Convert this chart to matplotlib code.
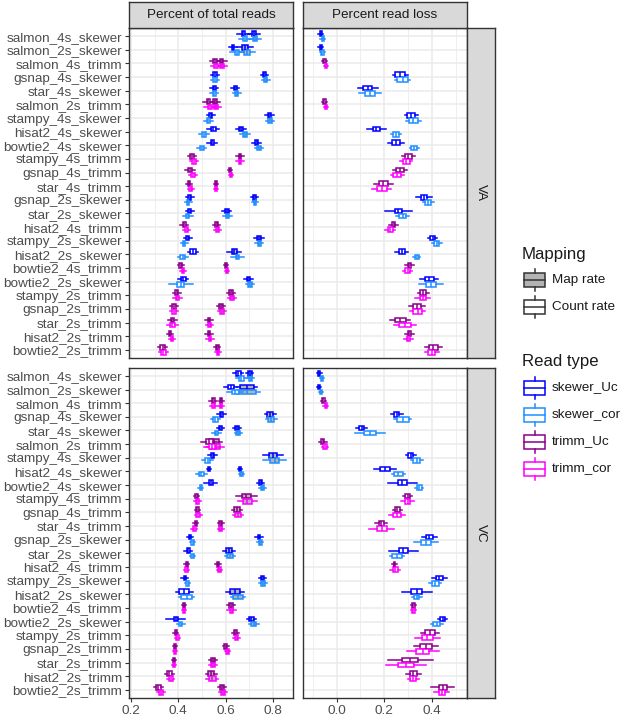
import numpy as np
import matplotlib.pyplot as plt

plt.rcParams['font.family'] = ['Liberation Sans', 'DejaVu Sans']

# pipelines, top to bottom
categories = ['salmon_4s_skewer', 'salmon_2s_skewer', 'salmon_4s_trimm', 'gsnap_4s_skewer',
              'star_4s_skewer', 'salmon_2s_trimm', 'stampy_4s_skewer', 'hisat2_4s_skewer',
              'bowtie2_4s_skewer', 'stampy_4s_trimm', 'gsnap_4s_trimm', 'star_4s_trimm',
              'gsnap_2s_skewer', 'star_2s_skewer', 'hisat2_4s_trimm', 'stampy_2s_skewer',
              'hisat2_2s_skewer', 'bowtie2_4s_trimm', 'bowtie2_2s_skewer', 'stampy_2s_trimm',
              'gsnap_2s_trimm', 'star_2s_trimm', 'hisat2_2s_trimm', 'bowtie2_2s_trimm']
trimmer = ['skewer' if c.endswith('skewer') else 'trimm' for c in categories]

colors = {'skewer_Uc': '#0000FF', 'skewer_cor': '#1E90FF',
          'trimm_Uc': '#8B008B', 'trimm_cor': '#FF00FF'}
read_types = ['skewer_Uc', 'skewer_cor', 'trimm_Uc', 'trimm_cor']

# ---- VA, percent of total reads ----
va_count_uc_med = [0.675, 0.631, 0.555, 0.555, 0.552, 0.527, 0.537, 0.548, 0.544, 0.459, 0.449, 0.445,
                   0.449, 0.449, 0.425, 0.440, 0.461, 0.410, 0.421, 0.393, 0.382, 0.375, 0.365, 0.334]
va_count_cor_med = [0.682, 0.648, 0.560, 0.555, 0.552, 0.534, 0.527, 0.509, 0.499, 0.466, 0.461, 0.452,
                    0.442, 0.440, 0.435, 0.425, 0.419, 0.419, 0.411, 0.396, 0.382, 0.375, 0.372, 0.337]
va_map_uc_med = [0.720, 0.682, 0.583, 0.764, 0.640, 0.555, 0.785, 0.665, 0.731, 0.661, 0.619, 0.558,
                 0.722, 0.605, 0.562, 0.741, 0.637, 0.600, 0.696, 0.623, 0.581, 0.530, 0.530, 0.565]
va_map_cor_med = [0.724, 0.690, 0.585, 0.770, 0.647, 0.560, 0.788, 0.682, 0.742, 0.661, 0.622, 0.560,
                  0.724, 0.608, 0.566, 0.742, 0.650, 0.605, 0.703, 0.626, 0.584, 0.532, 0.534, 0.569]
va_count_uc_iqr = [0.015, 0.010, 0.015, 0.015, 0.012, 0.015, 0.012, 0.020, 0.012, 0.015, 0.015, 0.010,
                   0.012, 0.012, 0.012, 0.012, 0.025, 0.010, 0.020, 0.015, 0.015, 0.015, 0.010, 0.020]
va_count_cor_iqr = [0.020, 0.020, 0.015, 0.015, 0.012, 0.020, 0.015, 0.020, 0.015, 0.015, 0.015, 0.010,
                    0.010, 0.012, 0.012, 0.010, 0.020, 0.010, 0.030, 0.015, 0.015, 0.020, 0.010, 0.020]
va_map_uc_iqr = [0.020, 0.025, 0.015, 0.012, 0.012, 0.015, 0.015, 0.015, 0.015, 0.012, 0.008, 0.008,
                 0.010, 0.015, 0.012, 0.015, 0.020, 0.008, 0.015, 0.015, 0.015, 0.012, 0.012, 0.010]
va_map_cor_iqr = [0.020, 0.025, 0.015, 0.012, 0.012, 0.015, 0.015, 0.015, 0.015, 0.012, 0.008, 0.008,
                  0.010, 0.015, 0.012, 0.012, 0.015, 0.008, 0.015, 0.015, 0.015, 0.012, 0.012, 0.010]
va_count_uc_wsk = [0.020, 0.010, 0.015, 0.010, 0.010, 0.015, 0.010, 0.015, 0.015, 0.010, 0.012, 0.008,
                   0.010, 0.012, 0.010, 0.010, 0.008, 0.008, 0.012, 0.010, 0.010, 0.010, 0.008, 0.008]
va_count_cor_wsk = [0.015, 0.020, 0.015, 0.010, 0.010, 0.015, 0.012, 0.012, 0.012, 0.010, 0.010, 0.008,
                    0.010, 0.015, 0.010, 0.010, 0.012, 0.008, 0.035, 0.012, 0.010, 0.012, 0.008, 0.008]
va_map_uc_wsk = [0.015, 0.020, 0.015, 0.010, 0.010, 0.015, 0.010, 0.012, 0.010, 0.010, 0.005, 0.005,
                 0.008, 0.012, 0.008, 0.012, 0.020, 0.005, 0.012, 0.010, 0.010, 0.010, 0.010, 0.008]
va_map_cor_wsk = [0.015, 0.020, 0.015, 0.010, 0.010, 0.015, 0.010, 0.012, 0.010, 0.010, 0.005, 0.005,
                  0.008, 0.010, 0.008, 0.010, 0.020, 0.005, 0.010, 0.010, 0.010, 0.010, 0.010, 0.008]

# ---- VA, percent read loss ----
va_loss_uc_med = [-0.067, -0.067, -0.052, 0.267, 0.130, -0.052, 0.313, 0.166, 0.250, 0.302, 0.267, 0.196,
                  0.368, 0.260, 0.239, 0.404, 0.274, 0.306, 0.390, 0.365, 0.337, 0.267, 0.306, 0.407]
va_loss_cor_med = [-0.059, -0.060, -0.045, 0.278, 0.140, -0.045, 0.323, 0.248, 0.327, 0.292, 0.255, 0.190,
                   0.386, 0.278, 0.225, 0.421, 0.337, 0.298, 0.397, 0.362, 0.340, 0.288, 0.302, 0.400]
va_loss_uc_iqr = [0.010, 0.010, 0.010, 0.040, 0.035, 0.010, 0.035, 0.030, 0.035, 0.030, 0.035, 0.040,
                  0.025, 0.030, 0.015, 0.020, 0.025, 0.015, 0.035, 0.025, 0.035, 0.045, 0.015, 0.035]
va_loss_cor_iqr = [0.010, 0.010, 0.010, 0.045, 0.040, 0.010, 0.035, 0.025, 0.025, 0.030, 0.035, 0.040,
                   0.025, 0.030, 0.020, 0.020, 0.015, 0.020, 0.040, 0.025, 0.035, 0.050, 0.015, 0.030]
va_loss_uc_wsk = [0.005, 0.005, 0.005, 0.012, 0.025, 0.005, 0.010, 0.025, 0.015, 0.012, 0.012, 0.020,
                  0.020, 0.040, 0.010, 0.010, 0.015, 0.010, 0.020, 0.012, 0.015, 0.020, 0.012, 0.020]
va_loss_cor_wsk = [0.005, 0.005, 0.005, 0.010, 0.025, 0.005, 0.015, 0.008, 0.008, 0.010, 0.010, 0.020,
                   0.010, 0.012, 0.012, 0.010, 0.008, 0.010, 0.030, 0.020, 0.015, 0.020, 0.010, 0.015]

# ---- VC, percent of total reads ----
vc_count_uc_med = [0.653, 0.622, 0.547, 0.582, 0.578, 0.530, 0.545, 0.530, 0.538, 0.477, 0.480, 0.473,
                   0.449, 0.442, 0.435, 0.428, 0.425, 0.424, 0.390, 0.389, 0.386, 0.382, 0.362, 0.316]
vc_count_cor_med = [0.667, 0.640, 0.550, 0.557, 0.561, 0.543, 0.524, 0.498, 0.495, 0.481, 0.484, 0.467,
                    0.460, 0.460, 0.435, 0.439, 0.435, 0.424, 0.411, 0.396, 0.386, 0.382, 0.368, 0.327]
vc_map_uc_med = [0.702, 0.690, 0.582, 0.789, 0.648, 0.550, 0.800, 0.660, 0.748, 0.688, 0.648, 0.580,
                 0.741, 0.615, 0.568, 0.755, 0.640, 0.622, 0.709, 0.641, 0.600, 0.547, 0.540, 0.585]
vc_map_cor_med = [0.706, 0.690, 0.582, 0.793, 0.653, 0.555, 0.807, 0.667, 0.755, 0.692, 0.653, 0.580,
                  0.747, 0.618, 0.573, 0.758, 0.653, 0.625, 0.719, 0.646, 0.608, 0.547, 0.543, 0.590]
vc_count_uc_iqr = [0.020, 0.025, 0.012, 0.015, 0.010, 0.030, 0.015, 0.010, 0.015, 0.010, 0.012, 0.008,
                   0.008, 0.012, 0.008, 0.010, 0.040, 0.006, 0.020, 0.010, 0.006, 0.008, 0.020, 0.020]
vc_count_cor_iqr = [0.020, 0.030, 0.012, 0.020, 0.015, 0.030, 0.020, 0.020, 0.010, 0.015, 0.015, 0.012,
                    0.010, 0.010, 0.010, 0.010, 0.045, 0.008, 0.012, 0.010, 0.006, 0.010, 0.015, 0.015]
vc_map_uc_iqr = [0.015, 0.060, 0.008, 0.025, 0.015, 0.040, 0.035, 0.008, 0.012, 0.035, 0.025, 0.012,
                 0.010, 0.025, 0.012, 0.015, 0.045, 0.015, 0.020, 0.015, 0.015, 0.015, 0.025, 0.015]
vc_map_cor_iqr = [0.015, 0.080, 0.008, 0.025, 0.015, 0.045, 0.040, 0.012, 0.012, 0.040, 0.025, 0.012,
                  0.010, 0.025, 0.012, 0.015, 0.040, 0.015, 0.020, 0.015, 0.015, 0.015, 0.030, 0.015]
vc_count_uc_wsk = [0.010, 0.015, 0.010, 0.010, 0.010, 0.020, 0.012, 0.005, 0.020, 0.005, 0.005, 0.005,
                   0.010, 0.010, 0.005, 0.010, 0.015, 0.005, 0.030, 0.005, 0.005, 0.005, 0.010, 0.008]
vc_count_cor_wsk = [0.012, 0.020, 0.010, 0.010, 0.010, 0.020, 0.012, 0.015, 0.005, 0.008, 0.008, 0.008,
                    0.005, 0.005, 0.005, 0.005, 0.010, 0.005, 0.010, 0.005, 0.005, 0.005, 0.008, 0.008]
vc_map_uc_wsk = [0.008, 0.012, 0.005, 0.010, 0.008, 0.015, 0.025, 0.005, 0.010, 0.025, 0.008, 0.008,
                 0.010, 0.012, 0.005, 0.008, 0.015, 0.010, 0.010, 0.008, 0.005, 0.008, 0.010, 0.010]
vc_map_cor_wsk = [0.008, 0.015, 0.005, 0.010, 0.008, 0.015, 0.030, 0.005, 0.010, 0.020, 0.008, 0.008,
                  0.008, 0.010, 0.005, 0.008, 0.010, 0.010, 0.010, 0.008, 0.005, 0.008, 0.010, 0.010]

# ---- VC, percent read loss ----
vc_loss_uc_med = [-0.073, -0.074, -0.056, 0.253, 0.105, -0.059, 0.312, 0.204, 0.276, 0.298, 0.255, 0.187,
                  0.390, 0.281, 0.243, 0.432, 0.337, 0.323, 0.446, 0.393, 0.376, 0.309, 0.323, 0.446]
vc_loss_cor_med = [-0.063, -0.066, -0.046, 0.278, 0.140, -0.049, 0.337, 0.260, 0.347, 0.298, 0.253, 0.190,
                   0.376, 0.253, 0.246, 0.414, 0.337, 0.323, 0.421, 0.382, 0.362, 0.292, 0.323, 0.442]
vc_loss_uc_iqr = [0.008, 0.008, 0.010, 0.020, 0.020, 0.015, 0.020, 0.040, 0.040, 0.020, 0.020, 0.020,
                  0.030, 0.040, 0.008, 0.030, 0.045, 0.010, 0.020, 0.045, 0.050, 0.070, 0.030, 0.035]
vc_loss_cor_iqr = [0.008, 0.008, 0.010, 0.050, 0.050, 0.015, 0.030, 0.035, 0.020, 0.025, 0.035, 0.045,
                   0.040, 0.040, 0.020, 0.030, 0.020, 0.010, 0.030, 0.045, 0.055, 0.070, 0.025, 0.025]
vc_loss_uc_wsk = [0.005, 0.005, 0.005, 0.015, 0.012, 0.010, 0.012, 0.025, 0.040, 0.010, 0.010, 0.015,
                  0.015, 0.040, 0.005, 0.015, 0.040, 0.005, 0.010, 0.015, 0.025, 0.060, 0.015, 0.030]
vc_loss_cor_wsk = [0.005, 0.005, 0.005, 0.010, 0.040, 0.005, 0.010, 0.010, 0.008, 0.015, 0.015, 0.030,
                   0.030, 0.010, 0.010, 0.010, 0.010, 0.005, 0.010, 0.030, 0.040, 0.050, 0.010, 0.020]

MAP_FILL = '#B3B3B3'
COUNT_FILL = 'white'

panels = {
    (0, 0): [(va_map_uc_med, va_map_uc_iqr, va_map_uc_wsk, 'Uc', MAP_FILL),
             (va_map_cor_med, va_map_cor_iqr, va_map_cor_wsk, 'cor', MAP_FILL),
             (va_count_uc_med, va_count_uc_iqr, va_count_uc_wsk, 'Uc', COUNT_FILL),
             (va_count_cor_med, va_count_cor_iqr, va_count_cor_wsk, 'cor', COUNT_FILL)],
    (0, 1): [(va_loss_uc_med, va_loss_uc_iqr, va_loss_uc_wsk, 'Uc', COUNT_FILL),
             (va_loss_cor_med, va_loss_cor_iqr, va_loss_cor_wsk, 'cor', COUNT_FILL)],
    (1, 0): [(vc_map_uc_med, vc_map_uc_iqr, vc_map_uc_wsk, 'Uc', MAP_FILL),
             (vc_map_cor_med, vc_map_cor_iqr, vc_map_cor_wsk, 'cor', MAP_FILL),
             (vc_count_uc_med, vc_count_uc_iqr, vc_count_uc_wsk, 'Uc', COUNT_FILL),
             (vc_count_cor_med, vc_count_cor_iqr, vc_count_cor_wsk, 'cor', COUNT_FILL)],
    (1, 1): [(vc_loss_uc_med, vc_loss_uc_iqr, vc_loss_uc_wsk, 'Uc', COUNT_FILL),
             (vc_loss_cor_med, vc_loss_cor_iqr, vc_loss_cor_wsk, 'cor', COUNT_FILL)],
}
col_titles = ['Percent of total reads', 'Percent read loss']
row_titles = ['VA', 'VC']

W, H = 623, 719
fig = plt.figure(figsize=(W / 100, H / 100), dpi=100)


def px_axes(x0, y0, x1, y1):
    return fig.add_axes([x0 / W, 1 - y1 / H, (x1 - x0) / W, (y1 - y0) / H])


def draw_boxes(ax, med, iqr, wsk, kind, fill):
    n = len(categories)
    for i in range(n):
        col = colors[trimmer[i] + '_' + kind]
        q1 = med[i] - iqr[i] / 2
        q3 = med[i] + iqr[i] / 2
        st = dict(med=med[i], q1=q1, q3=q3, whislo=q1 - wsk[i], whishi=q3 + wsk[i], fliers=[])
        pos = n - i + (0.1875 if kind == 'Uc' else -0.1875)
        ax.bxp([st], positions=[pos], widths=0.34, orientation='horizontal',
               showfliers=False, showcaps=False, patch_artist=True, manage_ticks=False,
               boxprops=dict(facecolor=fill, edgecolor=col, linewidth=1.1),
               medianprops=dict(color=col, linewidth=1.1),
               whiskerprops=dict(color=col, linewidth=1.1))


col_x = [(129, 293.3), (303.3, 466.7)]
row_y = [(28, 358), (367.7, 698)]
xlims = [(0.1916, 0.886), (-0.1406, 0.547)]
xmajor = [[0.2, 0.4, 0.6, 0.8], [0.0, 0.2, 0.4]]
xminor = [[0.3, 0.5, 0.7], [-0.1, 0.1, 0.3, 0.5]]

for (r, c), groups in panels.items():
    ax = px_axes(col_x[c][0], row_y[r][0], col_x[c][1], row_y[r][1])
    ax.set_axisbelow(True)
    for med, iqr, wsk, kind, fill in groups:
        draw_boxes(ax, med, iqr, wsk, kind, fill)
    ax.set_xlim(*xlims[c])
    ax.set_ylim(0.4, len(categories) + 0.6)
    ax.set_yticks(np.arange(len(categories), 0, -1))
    ax.set_yticklabels(categories)
    ax.set_xticks(xmajor[c])
    ax.set_xticklabels(['%.1f' % v for v in xmajor[c]])
    ax.set_xticks(xminor[c], minor=True)
    ax.grid(True, which='major', color='#EBEBEB', linewidth=1.1)
    ax.grid(True, which='minor', axis='x', color='#EBEBEB', linewidth=0.55)
    ax.tick_params(which='minor', length=0)
    ax.tick_params(which='major', length=3, width=0.8, color='#333333',
                   labelsize=9.7, labelcolor='#4D4D4D', pad=2)
    if c != 0:
        ax.tick_params(axis='y', left=False, labelleft=False)
    if r != 1:
        ax.tick_params(axis='x', bottom=False, labelbottom=False)
    for s in ax.spines.values():
        s.set_color('#333333')
        s.set_linewidth(1.0)

# strips
for c, title in enumerate(col_titles):
    sa = px_axes(col_x[c][0], 2, col_x[c][1], 28)
    sa.set_facecolor('#D9D9D9')
    sa.set_xticks([])
    sa.set_yticks([])
    for s in sa.spines.values():
        s.set_color('#333333')
        s.set_linewidth(1.0)
    sa.text(0.5, 0.5, title, ha='center', va='center', fontsize=9.7, color='#1A1A1A',
            transform=sa.transAxes)
for r, title in enumerate(row_titles):
    sa = px_axes(466.7, row_y[r][0], 495, row_y[r][1])
    sa.set_facecolor('#D9D9D9')
    sa.set_xticks([])
    sa.set_yticks([])
    for s in sa.spines.values():
        s.set_color('#333333')
        s.set_linewidth(1.0)
    sa.text(0.5, 0.5, title, ha='center', va='center', fontsize=9.7, color='#1A1A1A',
            rotation=-90, transform=sa.transAxes)

# legends
lg = fig.add_axes([0, 0, 1, 1])
lg.set_xlim(0, W)
lg.set_ylim(H, 0)
lg.axis('off')


def key(yc, edge, fill):
    lg.add_patch(plt.Rectangle((524, yc - 7), 21, 14, facecolor=fill, edgecolor=edge, lw=1.1))
    lg.plot([524, 545], [yc, yc], color=edge, lw=1.1)
    lg.plot([534.5, 534.5], [yc - 11, yc - 7], color=edge, lw=1.1)
    lg.plot([534.5, 534.5], [yc + 7, yc + 11], color=edge, lw=1.1)


lg.text(522, 255, 'Mapping', fontsize=12.1, color='#1A1A1A', va='center', ha='left')
for yc, lab, fill in [(279.7, 'Map rate', MAP_FILL), (306.7, 'Count rate', COUNT_FILL)]:
    key(yc, '#333333', fill)
    lg.text(552, yc, lab, fontsize=9.7, color='#1A1A1A', va='center', ha='left')

lg.text(522, 361.5, 'Read type', fontsize=12.1, color='#1A1A1A', va='center', ha='left')
for k, rt in enumerate(read_types):
    yc = 387.5 + 27 * k
    key(yc, colors[rt], 'white')
    lg.text(552, yc, rt, fontsize=9.7, color='#1A1A1A', va='center', ha='left')

fig.savefig('out.png', dpi=100)
